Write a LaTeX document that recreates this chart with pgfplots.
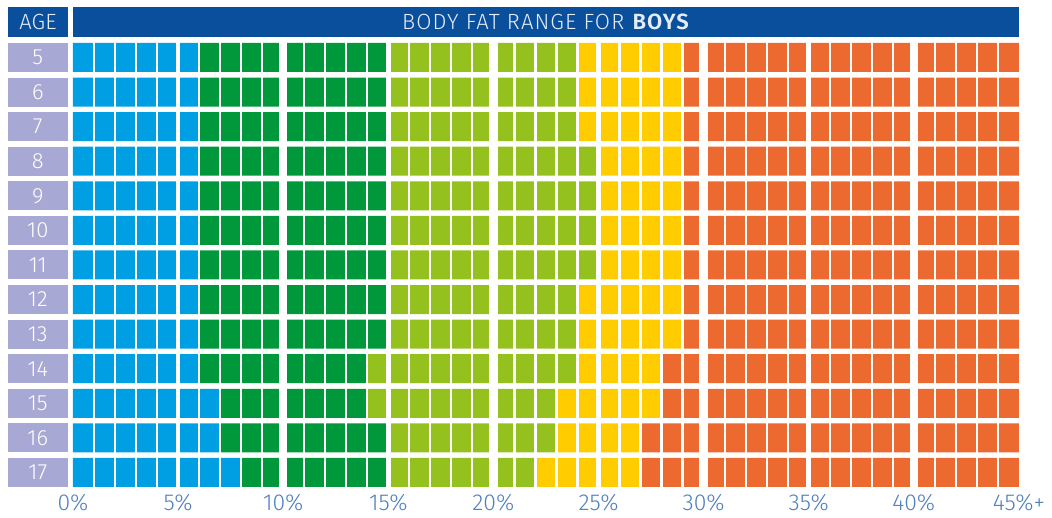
\documentclass[border=0pt]{standalone}
\usepackage{fontspec}
\setmainfont{Fira Sans}[UprightFont={* Light}, BoldFont={* SemiBold}]
\usepackage{pgfplots}
\usepackage{pgfplotstable}
\pgfplotsset{compat=1.18}

\definecolor{cblue}{HTML}{009FE3}
\definecolor{cdgreen}{HTML}{00983A}
\definecolor{clgreen}{HTML}{95C11F}
\definecolor{cyellow}{HTML}{FFCC00}
\definecolor{corange}{HTML}{EC6930}
\definecolor{navy}{HTML}{0A4F9C}
\definecolor{lav}{HTML}{A8A8D4}
\definecolor{ticktext}{HTML}{4F80BF}
\definecolor{headtext}{HTML}{E4ECF7}

% number of 1% cells per zone, per age
\pgfplotstableread{
age under healthy fit over obese
5  6 9 9  5 16
6  6 9 9  5 16
7  6 9 9  5 16
8  6 9 10 4 16
9  6 9 10 4 16
10 6 9 10 4 16
11 6 9 10 4 16
12 6 9 9  5 16
13 6 9 9  5 16
14 6 8 10 4 17
15 7 7 9  5 17
16 7 8 8  4 18
17 8 7 7  5 18
}\boys

\begin{document}
\begin{tikzpicture}
\begin{axis}[
  name=main,
  xbar stacked,
  bar width=29pt,
  x=21.02pt, y=34.58pt,
  xmin=0, xmax=45, ymin=4.5, ymax=17.5,
  y dir=reverse,
  axis on top,
  axis line style={draw=none},
  major tick length=0pt, minor tick length=0pt,
  xtick={5,10,...,40},
  xticklabels={5\%,10\%,15\%,20\%,25\%,30\%,35\%,40\%},
  extra x ticks={0,45},
  extra x tick labels={0\%,45\%+},
  extra x tick style={grid=none},
  minor xtick={1,...,44},
  xmajorgrids, xminorgrids,
  major grid style={white, line width=4.5pt},
  minor grid style={white, line width=2.2pt},
  xticklabel style={anchor=north, inner sep=0pt, yshift=-4pt,
    text=ticktext, font=\fontsize{23}{23}\selectfont},
  ytick={5,...,17},
  yticklabels={5,6,7,8,9,10,11,12,13,14,15,16,17},
  yticklabel style={anchor=east, inner sep=0pt, xshift=-5pt,
    fill=lav, text=white, minimum width=60pt, minimum height=29pt,
    font=\fontsize{22}{22}\selectfont},
  every axis plot/.append style={draw=none},
]
\addplot[fill=cblue] table[x=under, y=age] {\boys};
\addplot[fill=cdgreen] table[x=healthy, y=age] {\boys};
\addplot[fill=clgreen] table[x=fit, y=age] {\boys};
\addplot[fill=cyellow] table[x=over, y=age] {\boys};
\addplot[fill=corange] table[x=obese, y=age] {\boys};
\end{axis}
% wider gaps every 10%
\begin{axis}[
  at={(main.south west)}, anchor=south west,
  x=21.02pt, y=34.58pt,
  xmin=0, xmax=45, ymin=4.5, ymax=17.5,
  axis line style={draw=none},
  major tick length=0pt,
  xtick={10,20,30,40}, xticklabels={},
  ytick=\empty,
  xmajorgrids,
  major grid style={white, line width=8.5pt},
]
\end{axis}
\path ([xshift=-73pt, yshift=40.2pt]main.north west) rectangle ([xshift=979pt, yshift=-477pt]main.north west);
\fill[navy] ([yshift=3.2pt]main.north west) rectangle ([yshift=33.2pt]main.north east);
\node[text=headtext, font=\fontsize{22}{22}\selectfont\addfontfeatures{LetterSpace=5}] at ([yshift=18.2pt]main.north) {BODY FAT RANGE FOR \textbf{BOYS}};
\fill[navy] ([xshift=-65pt, yshift=3.2pt]main.north west) rectangle ([xshift=-5pt, yshift=33.2pt]main.north west);
\node[text=headtext, font=\fontsize{22}{22}\selectfont] at ([xshift=-35pt, yshift=18.2pt]main.north west) {AGE};
\end{tikzpicture}
\end{document}
